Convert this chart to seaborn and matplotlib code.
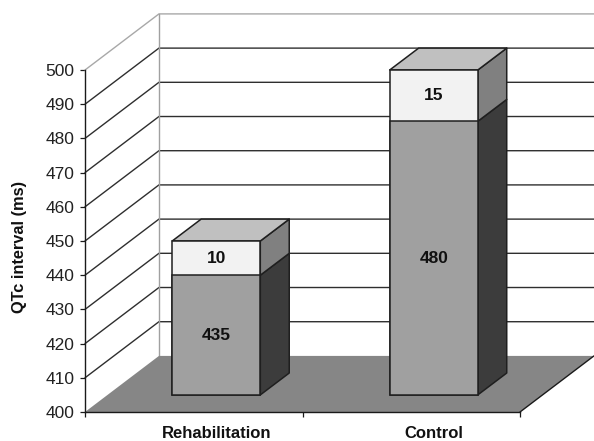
import numpy as np
import matplotlib
matplotlib.use("Agg")
import matplotlib.pyplot as plt
from matplotlib.patches import Polygon
from matplotlib.transforms import Affine2D
import seaborn as sns

# QTc interval by group, stacked: mean plus spread on top
categories = ["Rehabilitation", "Control"]
base_values = [435, 480]
top_values = [10, 15]
y_ticks = list(range(400, 501, 10))
y_label = "QTc interval (ms)"

sns.set_theme(style="white")
plt.rcParams["font.family"] = ["Liberation Sans", "DejaVu Sans"]

FLOOR = 400
CEIL = 500

# Oblique depth of the chart box and of each bar, in data units
WALL_DX, WALL_DY = 0.34, 16.4
BAR_DX, BAR_DY = 0.133, 6.4
GAP_DX, GAP_DY = (WALL_DX - BAR_DX) / 2, (WALL_DY - BAR_DY) / 2
BAR_WIDTH = 0.405
XMIN, XMAX = -0.5, 1.5

EDGE = "#1f1f1f"
GRID = "#2e2e2e"

fig = plt.figure(figsize=(5.94, 4.41), dpi=100, facecolor="white")
ax = fig.add_axes([85 / 594, (441 - 412) / 441, 435 / 594, 342 / 441])
ax.set_facecolor("none")

base = np.array(base_values)
total = base + np.array(top_values)

# Stacked front faces: the full height first, the lower part over it
sns.barplot(x=categories, y=total - FLOOR, bottom=FLOOR, color="#f2f2f2", saturation=1,
            width=BAR_WIDTH, edgecolor=EDGE, linewidth=1.1, ax=ax, zorder=5)
sns.barplot(x=categories, y=base - FLOOR, bottom=FLOOR, color="#a0a0a0", saturation=1,
            width=BAR_WIDTH, edgecolor=EDGE, linewidth=1.1, ax=ax, zorder=5.1)

ax.set_xlim(XMIN, XMAX)
ax.set_ylim(FLOOR, CEIL)

# Everything at bar depth is moved off the front plane of the box
bar_plane = Affine2D().translate(GAP_DX, GAP_DY) + ax.transData
for patch in ax.patches:
    patch.set_transform(bar_plane)
    patch.set_clip_on(False)


def face(points, color, z, lw=1.1, edge=EDGE, trans=None):
    ax.add_patch(Polygon(points, closed=True, facecolor=color, edgecolor=edge, linewidth=lw,
                         transform=trans or ax.transData, clip_on=False, zorder=z, joinstyle="round"))


# Box: floor, back wall edges, gridlines
face([(XMIN, FLOOR), (XMAX, FLOOR), (XMAX + WALL_DX, FLOOR + WALL_DY), (XMIN + WALL_DX, FLOOR + WALL_DY)],
     "#868686", 2, lw=0, edge="none")
for v in y_ticks[1:]:
    colour = "#a8a8a8" if v == CEIL else GRID
    ax.plot([XMIN, XMIN + WALL_DX, XMAX + WALL_DX], [v, v + WALL_DY, v + WALL_DY],
            color=colour, lw=1.0, clip_on=False, zorder=1, solid_joinstyle="miter")
ax.plot([XMIN + WALL_DX] * 2, [FLOOR + WALL_DY, CEIL + WALL_DY], color="#a0a0a0", lw=1.0, clip_on=False, zorder=1)
ax.plot([XMAX, XMAX + WALL_DX], [FLOOR, FLOOR + WALL_DY], color="#1a1a1a", lw=1.0, clip_on=False, zorder=3)

# Side and top faces of each bar
for i, (low, high) in enumerate(zip(base, total)):
    x0 = i - BAR_WIDTH / 2
    x1 = i + BAR_WIDTH / 2
    face([(x1, FLOOR), (x1 + BAR_DX, FLOOR + BAR_DY), (x1 + BAR_DX, low + BAR_DY), (x1, low)],
         "#3c3c3c", 4, trans=bar_plane)
    face([(x1, low), (x1 + BAR_DX, low + BAR_DY), (x1 + BAR_DX, high + BAR_DY), (x1, high)],
         "#808080", 4, trans=bar_plane)
    face([(x0, high), (x1, high), (x1 + BAR_DX, high + BAR_DY), (x0 + BAR_DX, high + BAR_DY)],
         "#c0c0c0", 4, trans=bar_plane)

# Value labels centred on each stacked segment
for i, (low, high, a, b) in enumerate(zip(base, total, base_values, top_values)):
    ax.text(i, (FLOOR + low) / 2, str(a), transform=bar_plane, ha="center", va="center",
            fontsize=12.5, fontweight="bold", color="#111111", zorder=7)
    ax.text(i, (low + high) / 2, str(b), transform=bar_plane, ha="center", va="center",
            fontsize=12.5, fontweight="bold", color="#111111", zorder=7)

# Axes
for side in ("top", "right"):
    ax.spines[side].set_visible(False)
for side in ("left", "bottom"):
    ax.spines[side].set_color("#1a1a1a")
    ax.spines[side].set_linewidth(1.0)
    ax.spines[side].set_zorder(6)

ax.set_yticks(y_ticks)
ax.set_yticklabels([str(v) for v in y_ticks], fontsize=12.5, color="#222222")
ax.tick_params(axis="y", left=True, length=3.6, width=0.9, color="#1a1a1a", pad=4)

ax.set_xticks([i + GAP_DX for i in range(len(categories))], categories)
ax.set_xticks([XMIN, 0.5, XMAX], minor=True)
ax.tick_params(axis="x", which="major", bottom=False, pad=4, labelsize=12, labelcolor="#111111")
ax.tick_params(axis="x", which="minor", bottom=True, length=3.6, width=0.9, color="#1a1a1a")
for label in ax.get_xticklabels():
    label.set_fontweight("bold")
ax.set_xlim(XMIN, XMAX)

ax.set_ylabel(y_label, fontsize=11.8, fontweight="bold", color="#111111")
ax.yaxis.set_label_coords((27.5 - 85) / 435, (412 - 247) / 342)

fig.savefig("out.png", dpi=100, facecolor="white")
